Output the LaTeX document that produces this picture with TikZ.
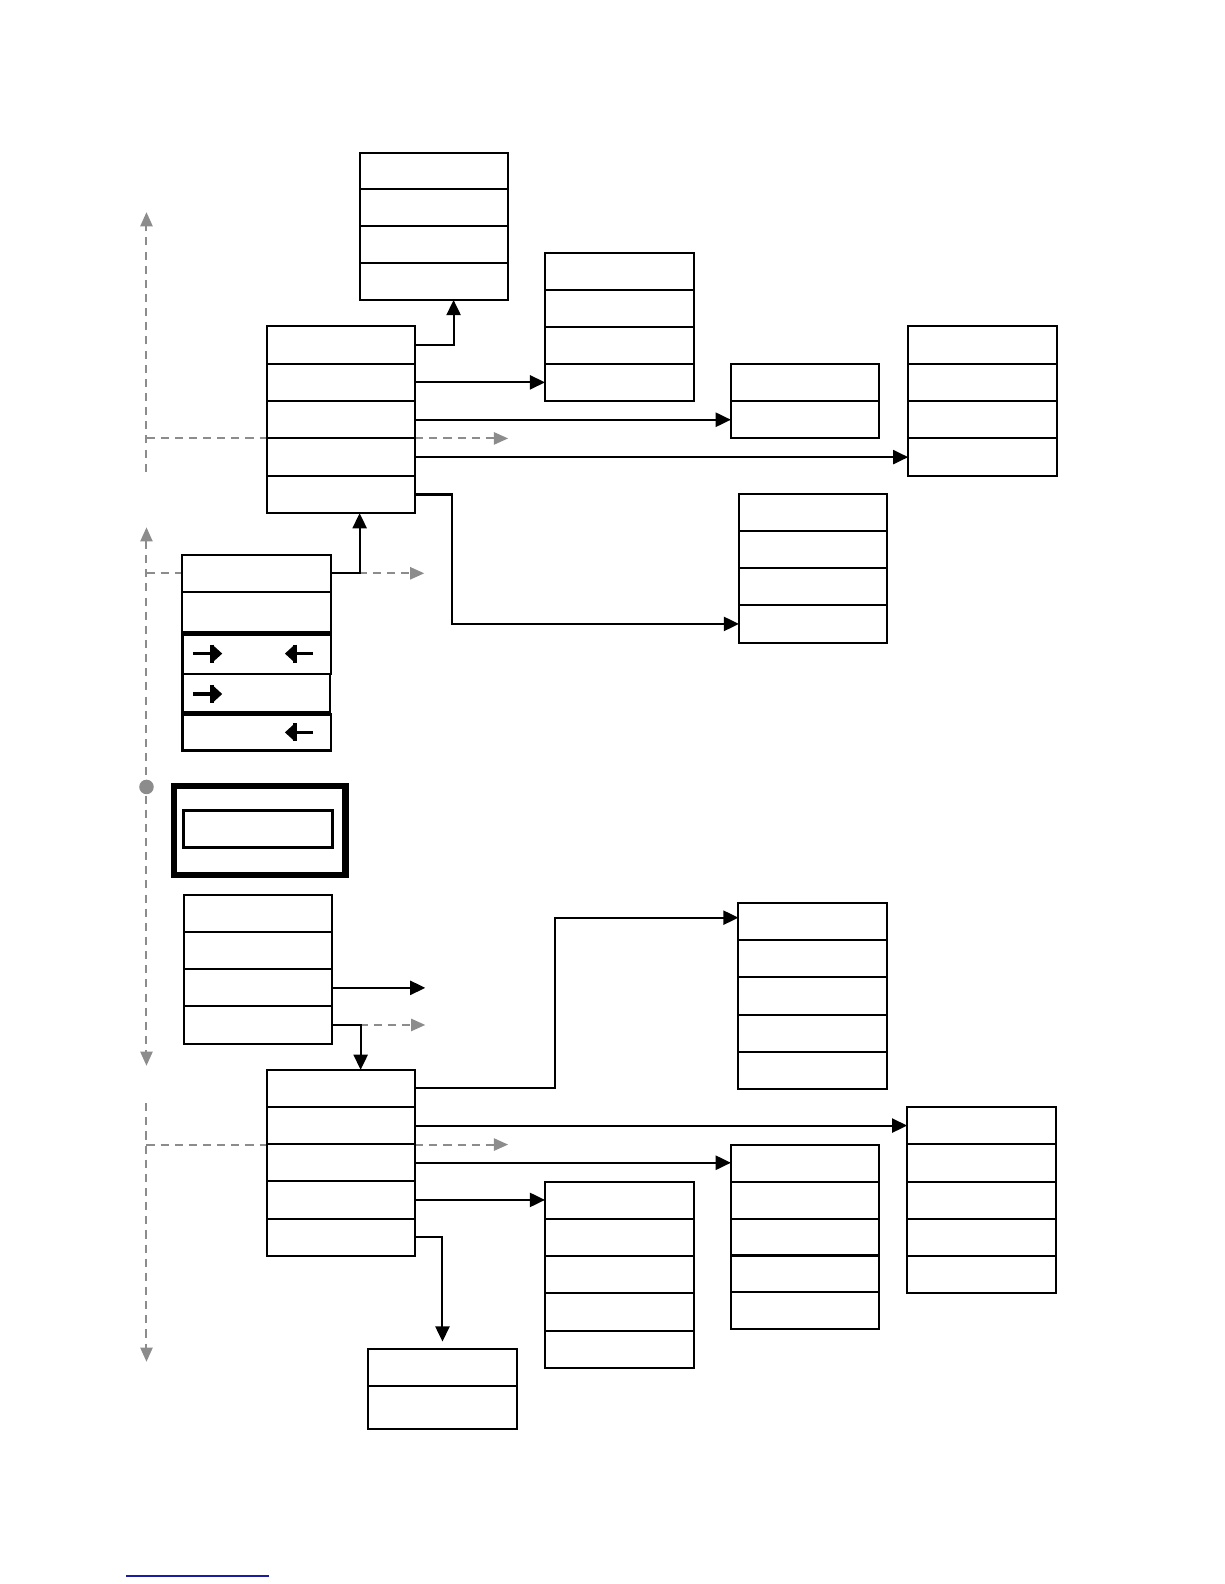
\documentclass[tikz,border=0pt]{standalone}
\usepackage{tikz}
\usetikzlibrary{arrows.meta,calc}
\definecolor{GuideGray}{HTML}{8C8C8C}
\definecolor{LinkBlue}{HTML}{1C1CA0}

\begin{document}
\begin{tikzpicture}[x=0.5pt, y=-0.5pt,
  cell/.style={draw, fill=white, line width=1pt, minimum width=73.5pt, minimum height=18.4pt, inner sep=0pt, outer sep=0pt},
  link/.style={line width=1pt, -{Triangle[length=7.5pt,width=7pt]}},
  guide/.style={GuideGray, line width=1pt, dash pattern=on 4pt off 3pt},
  guidetip/.style={guide, -{Triangle[length=7pt,width=6pt]}},
  pointer/.style={line width=1.7pt, -{Triangle[length=4pt,width=7pt]}}]
  \useasboundingbox (0,0) rectangle (1212,1568);

  % dashed guides (behind the boxes)
  \coordinate (axA) at (145,210); \coordinate (axB) at (145,522);
  \coordinate (axC) at (145,1055); \coordinate (axD) at (145,1348);
  \draw[guidetip] (145,467) -- (axA);
  \draw[guidetip] (145,434) -- (503,434);
  \draw[guide, {Triangle[length=7pt,width=6pt]}-{Triangle[length=7pt,width=6pt]}] (axB) -- (axC);
  \fill[GuideGray] (145,779) circle (3.6pt);
  \draw[guidetip] (145,567.5) -- (420,567.5);
  \draw[guidetip] (356,1014.6) -- (421,1014.6);
  \draw[guidetip] (145,1092) -- (axD);
  \draw[guidetip] (145,1133) -- (503,1133);

  % upper group
  \foreach \r in {1,...,4} \node[cell, minimum height=18.25pt] (t\r) at (429.5,{151+36.5*(\r-0.5)}) {};
  \foreach \r in {1,...,4} \node[cell] (p\r) at (613,{250+36.75*(\r-0.5)}) {};
  \foreach \r in {1,...,5} \node[cell, minimum height=18.5pt] (u\r) at (337.5,{323+37*(\r-0.5)}) {};
  \foreach \r in {1,2} \node[cell, minimum height=18.5pt] (q\r) at (797,{360+37*(\r-0.5)}) {};
  \foreach \r in {1,...,4} \node[cell, minimum height=18.5pt] (r\r) at (972.5,{323+37*(\r-0.5)}) {};
  \foreach \r in {1,...,4} \node[cell] (s\r) at (805,{489+36.75*(\r-0.5)}) {};

  % left stack with pointers
  \node[cell, minimum height=18.5pt] (k1) at (254,567.5) {};
  \node[cell, minimum height=20pt] (k2) at (254,606) {};
  \node[cell, line width=1.3pt, minimum height=19.5pt] (k3) at (254,647.5) {};
  \node[cell, line width=1.3pt, minimum height=19pt, minimum width=73pt] (k4) at (253.5,686) {};
  \node[cell, line width=1.3pt, minimum height=18pt] (k5) at (254,725) {};
  \draw[pointer] (191,647) -- (220,647); \draw[line width=1.7pt] (210,638) -- (210,656);
  \draw[pointer] (310,647) -- (282,647); \draw[line width=1.7pt] (292,638) -- (292,656);
  \draw[pointer] (191,687) -- (220,687); \draw[line width=1.7pt] (210,678) -- (210,696);
  \draw[pointer] (310,725) -- (282,725); \draw[line width=1.7pt] (292,716) -- (292,734);

  \node[draw, line width=3pt, minimum width=85pt, minimum height=44pt, inner sep=0pt] (frame) at (257,822) {};
  \node[cell, line width=1.4pt, minimum height=18.5pt] (slot) at (255.5,820.5) {};

  % lower group
  \foreach \r in {1,...,4} \node[cell] (h\r) at (255.5,{886+36.75*(\r-0.5)}) {};
  \foreach \r in {1,...,5} \node[cell] (w\r) at (337.5,{1059+36.8*(\r-0.5)}) {};
  \foreach \r in {1,...,5} \node[cell] (f\r) at (804.5,{894+36.8*(\r-0.5)}) {};
  \foreach \r in {1,...,5} \node[cell] (g\r) at (971.5,{1096+36.8*(\r-0.5)}) {};
  \foreach \r in {1,...,5} \node[cell, minimum height=18.3pt] (e\r) at (797,{1133+36.6*(\r-0.5)}) {};
  \foreach \r in {1,...,5} \node[cell] (d\r) at (613,{1170+36.8*(\r-0.5)}) {};
  \node[cell, minimum height=18.5pt] (c1) at (438,1353.5) {};
  \node[cell, minimum height=21.5pt] (c2) at (438,1393.5) {};

  % links
  \draw[link] (u1.east) -| ([xshift=9.75pt]t4.south);
  \draw[link] (u2.east) -- (u2.east -| p4.west);
  \draw[link] (u3.east) -- (u3.east -| q2.west);
  \draw[link] (u4.east) -- (u4.east -| r4.west);
  \draw[link] (u5.east) -- ++(18pt,0) |- (s4.west);
  \draw[link] (k1.east) -| ([xshift=9.25pt]u5.south);
  \draw[link] (h3.east) -- ++(46pt,0) coordinate (h3end);
  \draw[link] (h4.east) -| ([xshift=9.75pt]w1.north);
  \draw[link] (w1.east) -- ++(69pt,0) |- ([yshift=2pt]f1.west);
  \draw[link] (w2.east) -- (w2.east -| g1.west);
  \draw[link] (w3.east) -- (w3.east -| e1.west);
  \draw[link] (w4.east) -- (w4.east -| d1.west);
  \draw[link, shorten >=3.5pt] (w5.east) -| (c1.north);

  \draw[LinkBlue, line width=0.8pt] (125,1560) -- (266,1560);
\end{tikzpicture}
\end{document}
